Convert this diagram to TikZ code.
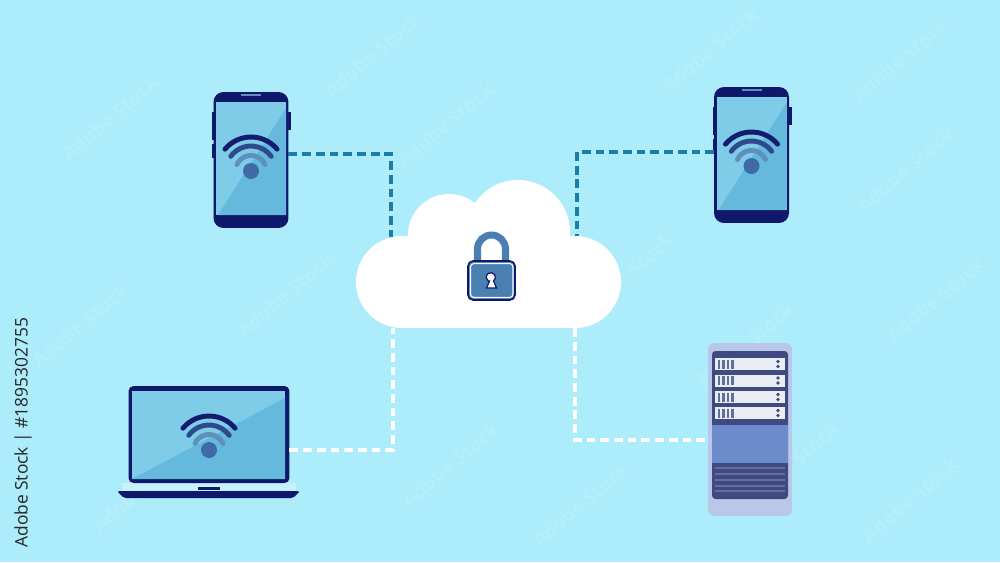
\documentclass[tikz,border=0pt]{standalone}
\usepackage{fontspec}
\setmainfont{Open Sans}
\definecolor{bgc}{HTML}{ADECFA}
\definecolor{navy}{HTML}{10186B}
\definecolor{scrL}{HTML}{7FCCE9}
\definecolor{scrD}{HTML}{65B9DD}
\definecolor{wA}{HTML}{141C6E}
\definecolor{wB}{HTML}{2F4A8C}
\definecolor{wC}{HTML}{5F90BC}
\definecolor{wD}{HTML}{3F6AA6}
\definecolor{teal}{HTML}{1B7EA8}
\definecolor{lockc}{HTML}{4A7FB2}
\definecolor{rackP}{HTML}{B9C8E8}
\definecolor{rackD}{HTML}{3F4A80}
\definecolor{rackB}{HTML}{6C8BCB}
\definecolor{rackS}{HTML}{E9ECF1}
\definecolor{rackL}{HTML}{626E9E}
\definecolor{wmk}{HTML}{B6EEFB}
\tikzset{
  phonebody/.style={fill=navy,minimum width=1.5cm,minimum height=2.72cm,rounded corners=0.2cm,inner sep=0,outer sep=0},
  laptopbody/.style={fill=navy,minimum width=3.22cm,minimum height=1.94cm,rounded corners=0.1cm,inner sep=0,outer sep=0},
  serverpanel/.style={fill=rackP,minimum width=1.68cm,minimum height=3.46cm,rounded corners=0.12cm,inner sep=0,outer sep=0},
  cloudbase/.style={fill=white,minimum width=3.6cm,minimum height=1.76cm,inner sep=0,outer sep=0},
  cloudlobe/.style={fill=white,draw=none},
  linkdark/.style={draw=teal,line width=1.75pt,dash pattern=on 5pt off 2.8pt},
  linklight/.style={draw=white,line width=1.75pt,dash pattern=on 5pt off 2.8pt},
  wmark/.style={text=wmk,font=\bfseries\fontsize{11}{11}\selectfont,rotate=40,inner sep=0},
  wifiarc/.style={line width=2.8pt,line cap=round},
  wifi/.pic={
    \draw[wifiarc,wA] (140:34) arc (140:40:34);
    \draw[wifiarc,wB] (144:25) arc (144:36:25);
    \draw[wifiarc,wC] (155:15.5) arc (155:25:15.5);
    \fill[wD] (0,0) circle (8);
  },
  phone/.pic={
    \fill[navy] (-39,48) rectangle (-36,20);
    \fill[navy] (-39,16) rectangle (-36,2);
    \fill[navy] (36,48) rectangle (40,30);
    \node[phonebody] (body) at (0,0) {};
    \fill[scrL] (-35,-55) rectangle (35,58);
    \fill[scrD] (-33,-55) -- (35,52) -- (35,-55) -- cycle;
    \draw[line width=0.9pt,wC] (-10,65) -- (10,65);
    \pic at (0,-11) {wifi};
  }
}
\begin{document}
\begin{tikzpicture}[x=0.02cm,y=0.02cm]
\useasboundingbox (0,0) rectangle (1000,-562);
\fill[bgc] (0,0) rectangle (1000,-562);
% watermark
\foreach \wx/\wy in {110/-118,372/-55,445/-125,710/-50,900/-60,905/-170,
  285/-295,80/-325,625/-275,745/-345,935/-300,
  140/-490,450/-465,580/-505,790/-465,910/-500}
  \node[wmark] at (\wx,\wy) {Adobe Stock};
% devices
\pic (phoneA) at (251,-160) {phone};
\pic (phoneB) at (751.5,-155) {phone};
% laptop
\fill[bgc!70!white] (122,-483) rectangle (296,-492);
\node[laptopbody] (laptop) at (209,-434.5) {};
\fill[scrL] (132,-391) rectangle (285,-479);
\fill[scrD] (132,-479) -- (285,-398) -- (285,-479) -- cycle;
\fill[navy] (198,-487) rectangle (220,-490);
\fill[navy,rounded corners=1pt] (117,-491) -- (300,-491) -- (293,-498) -- (124,-498) -- cycle;
\pic at (209,-450) {wifi};
% server
\node[serverpanel] (server) at (750,-429.5) {};
\fill[rackD,rounded corners=2pt] (712,-351) rectangle (788,-499);
\fill[rackB] (712,-425) rectangle (788,-463);
\foreach \sy in {358,374.5,391,407}{
  \fill[rackS] (715,-\sy) rectangle (785,-\sy-12);
  \foreach \bx in {719,723.5,728,732.5}
    \draw[rackL,line width=1.2pt] (\bx,-\sy-1.5) -- (\bx,-\sy-10.5);
  \fill[rackD] (778,-\sy-3.5) circle (1.9);
  \fill[rackD] (778,-\sy-8.5) circle (1.9);
}
\foreach \ly in {468,474,480,486,491}
  \draw[rackL,line width=0.7pt] (715,-\ly) -- (785,-\ly);
% cloud anchors
\coordinate (cloudTL) at (391,-237);
\coordinate (cloudTR) at (577,-237);
\coordinate (cloudBL) at (393,-328);
\coordinate (cloudBR) at (575,-328);
% connectors
\draw[linkdark] ([yshift=0.12cm]phoneAbody.east) -| (cloudTL);
\draw[linkdark] ([yshift=0.06cm]phoneBbody.west) -| (cloudTR);
\draw[linklight] ([yshift=-0.31cm]laptop.east) -| (cloudBL);
\draw[linklight] ([yshift=-0.21cm,xshift=-0.06cm]server.west) -| (cloudBR);
% cloud
\node[cloudbase] (cloud) at (489,-284) {};
\fill[cloudlobe] (402,-282) circle (46);
\fill[cloudlobe] (575,-282) circle (46);
\fill[cloudlobe] (449,-235) circle (41);
\fill[cloudlobe] (518,-232) circle (52);
% lock
\draw[lockc,line width=4pt] (477.5,-262) -- (477.5,-249) arc (180:0:14) -- (505.5,-262);
\node[fill=lockc,draw=navy,line width=0.9pt,minimum width=0.94cm,minimum height=0.78cm,rounded corners=0.1cm,inner sep=0,outer sep=0] (lock) at (491.5,-280.5) {};
\draw[white,line width=0.6pt,rounded corners=0.07cm] (470.5,-263.5) rectangle (513,-297.5);
\filldraw[fill=white,draw=navy,line width=0.7pt] (489.5,-281) -- (486.5,-288) -- (496.5,-288) -- (493.5,-281) arc (-55:235:4.6) -- cycle;
% side text
\node[rotate=90,anchor=west,text=black!85,font=\fontsize{9.9}{10}\selectfont,inner sep=0] (stock) at (23,-548) {Adobe Stock | \#1895302755};
\end{tikzpicture}
\end{document}
